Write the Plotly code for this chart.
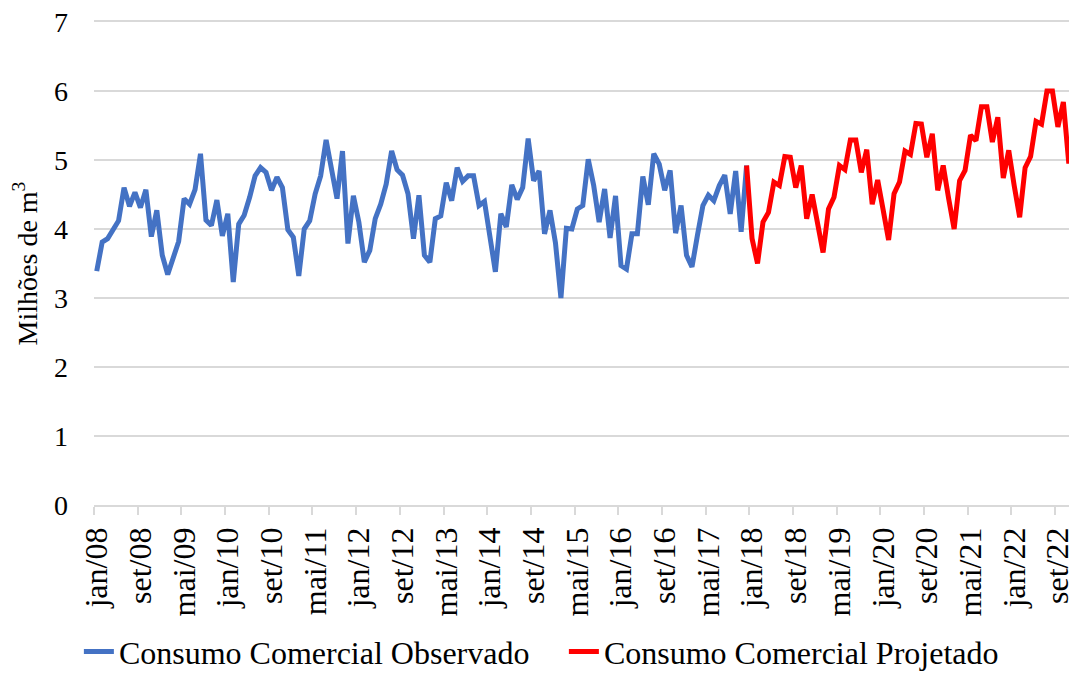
import plotly.graph_objects as go

# Monthly categories jan/08 .. dez/22
meses = ["jan", "fev", "mar", "abr", "mai", "jun", "jul", "ago", "set", "out", "nov", "dez"]
categorias = [f"{meses[m]}/{a:02d}" for a in range(8, 23) for m in range(12)]

observado = [
    3.39, 3.81, 3.86, 3.98, 4.12, 4.60, 4.33, 4.53, 4.31, 4.57, 3.89, 4.27,
    3.62, 3.34, 3.57, 3.82, 4.44, 4.36, 4.57, 5.09, 4.13, 4.05, 4.42, 3.90,
    4.22, 3.23, 4.07, 4.20, 4.46, 4.77, 4.89, 4.82, 4.56, 4.75, 4.60, 3.99,
    3.88, 3.32, 4.00, 4.12, 4.51, 4.77, 5.29, 4.87, 4.44, 5.13, 3.79, 4.48,
    4.10, 3.52, 3.69, 4.15, 4.36, 4.65, 5.13, 4.86, 4.78, 4.51, 3.86, 4.49,
    3.62, 3.52, 4.15, 4.19, 4.67, 4.41, 4.89, 4.69, 4.77, 4.77, 4.34, 4.40,
    3.93, 3.38, 4.22, 4.03, 4.64, 4.43, 4.60, 5.31, 4.70, 4.84, 3.93, 4.27,
    3.80, 3.00, 4.01, 4.00, 4.29, 4.34, 5.01, 4.63, 4.10, 4.58, 3.87, 4.48,
    3.47, 3.42, 3.93, 3.93, 4.76, 4.35, 5.09, 4.94, 4.56, 4.85, 3.94, 4.34,
    3.62, 3.45, 3.91, 4.34, 4.49, 4.41, 4.63, 4.78, 4.22, 4.84, 3.96, 4.92,
]

# Projection starts at dez/17 (joins the observed series)
projetado = [
    4.92,
    3.86, 3.50, 4.10, 4.24, 4.68, 4.63, 5.05, 5.04, 4.60, 4.92, 4.15, 4.50,
    4.07, 3.66, 4.29, 4.46, 4.92, 4.86, 5.29, 5.29, 4.82, 5.15, 4.36, 4.71,
    4.28, 3.84, 4.51, 4.68, 5.13, 5.08, 5.53, 5.52, 5.04, 5.38, 4.56, 4.92,
    4.44, 4.00, 4.70, 4.85, 5.36, 5.28, 5.77, 5.77, 5.26, 5.62, 4.74, 5.14,
    4.63, 4.17, 4.89, 5.05, 5.56, 5.52, 6.00, 6.00, 5.48, 5.84, 4.95, 5.36,
]

x_obs = list(range(len(observado)))
inicio_proj = len(observado) - 1
x_proj = list(range(inicio_proj, inicio_proj + len(projetado)))

tick_idx = list(range(0, len(categorias), 8))
tick_txt = [categorias[i] for i in tick_idx]

FONT = "Liberation Serif, Times New Roman, serif"

fig = go.Figure()
fig.add_trace(go.Scatter(
    x=x_obs, y=observado, mode="lines",
    name="Consumo Comercial Observado",
    line=dict(color="#4472C4", width=5),
))
fig.add_trace(go.Scatter(
    x=x_proj, y=projetado, mode="lines",
    name="Consumo Comercial Projetado",
    line=dict(color="#FF0000", width=5),
))

fig.update_layout(
    width=1069, height=667,
    margin=dict(l=86, r=0, t=14, b=170),
    plot_bgcolor="white", paper_bgcolor="white",
    font=dict(family=FONT, size=28, color="black"),
    showlegend=True,
    legend=dict(
        orientation="h", xref="container", yref="container",
        x=0.52, xanchor="center", y=0.035, yanchor="middle",
        font=dict(family=FONT, size=32, color="black"),
        tracegroupgap=0, itemwidth=30,
        entrywidth=440, entrywidthmode="pixels",
    ),
)

fig.update_xaxes(
    range=[-0.5, len(categorias) - 0.5],
    tickmode="array", tickvals=tick_idx, ticktext=tick_txt,
    tickangle=-90, ticks="", ticklabelstandoff=8,
    showgrid=False, zeroline=False,
    showline=True, mirror=True, linecolor="#d9d9d9", linewidth=1.5,
    minor=dict(tickmode="linear", tick0=-0.5, dtick=8, ticks="outside",
               ticklen=8, tickcolor="#d9d9d9", tickwidth=1.5, showgrid=False),
    tickfont=dict(family=FONT, size=32),
)

fig.update_yaxes(
    range=[0, 7], dtick=1, tick0=0,
    showgrid=True, gridcolor="#d9d9d9", gridwidth=1.5,
    zeroline=False, showline=False, ticks="",
    ticklabelstandoff=25, ticklabeloverflow="allow",
    tickfont=dict(family=FONT, size=28),
    title=dict(text="Milhões de m<sup>3</sup>", font=dict(family=FONT, size=28), standoff=9),
)

fig.write_html("out.html")
